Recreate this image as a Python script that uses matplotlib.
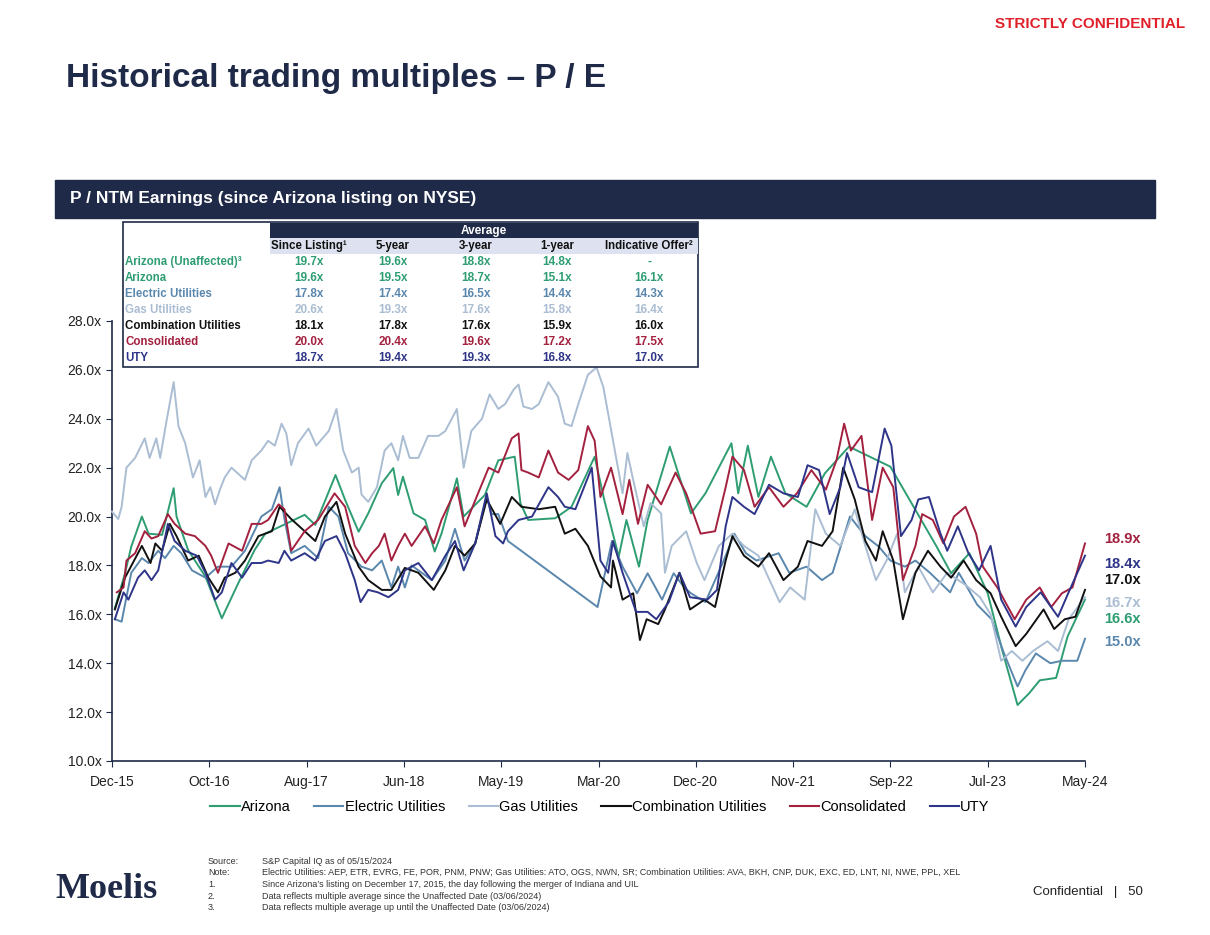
import matplotlib
matplotlib.use("Agg")
import matplotlib.pyplot as plt
from matplotlib.patches import Rectangle
from matplotlib.lines import Line2D

plt.rcParams['font.family'] = ['Liberation Sans', 'DejaVu Sans']

# ---------------- data (month index: 0 = Dec-15 ... 101 = May-24) ----------------
az_m = [0.3,1.35,2.0,3.1,3.8,5.2,6.4,6.7,7.9,9.7,11.4,13.1,14.8,15.9,20.0,21.1,23.2,24.2,25.6,26.6,28.0,29.2,29.7,30.2,31.3,32.5,33.5,34.2,35.8,36.5,38.7,40.1,41.8,42.4,43.2,46.0,47.7,50.1,51.1,52.6,53.4,54.7,55.6,57.9,60.1,61.6,64.3,65.0,66.0,67.1,68.4,69.9,72.1,74.0,76.5,80.8,83.4,85.6,87.1,89.0,90.9,92.4,94.0,95.2,96.3,98.0,99.2,101]
az_v = [16.25,17.68,18.77,20.0,19.3,19.25,21.16,20.0,18.63,17.54,15.84,17.27,18.63,19.3,20.07,19.66,21.7,20.68,19.38,20.13,21.36,21.98,20.88,21.63,20.13,19.86,18.57,19.3,21.56,20.0,20.88,22.3,22.45,20.54,19.86,19.93,20.4,22.45,20.68,18.36,19.86,17.95,19.86,22.86,20.13,20.95,23.0,20.95,22.9,20.8,22.45,20.95,20.4,21.77,22.86,22.04,20.27,18.77,17.68,18.5,16.86,14.54,12.29,12.77,13.3,13.4,15.1,16.6]

el_m = [0.3,1.0,2.0,3.1,3.8,4.8,5.5,6.4,7.2,8.3,9.7,11.0,12.4,13.8,15.5,16.6,17.4,17.9,18.6,20.0,21.4,22.5,23.5,24.5,25.9,27.0,28.0,29.0,29.7,30.4,31.1,33.2,34.6,35.6,36.6,37.7,38.9,39.4,40.1,41.1,50.4,51.9,53.0,54.5,55.6,57.1,58.3,59.4,60.1,61.6,63.5,64.6,65.8,66.9,69.2,70.3,72.1,73.7,74.8,76.6,78.2,79.6,80.8,82.3,83.4,84.9,87.0,87.9,89.8,91.3,92.6,94.0,94.8,95.9,97.4,98.6,100.2,101]
el_v = [15.8,15.7,17.7,18.3,18.1,18.6,18.3,18.8,18.5,17.8,17.5,17.95,17.95,18.6,20.0,20.3,21.2,19.9,18.5,18.8,18.3,20.4,20.0,18.5,17.95,17.8,18.2,17.1,17.95,17.1,18.0,17.4,18.2,19.5,18.2,18.9,20.8,20.1,20.1,19.0,16.3,19.0,17.95,16.86,17.68,16.6,17.68,17.1,16.86,16.5,18.2,19.3,18.5,18.2,18.5,17.7,17.95,17.4,17.7,20.0,19.2,18.77,18.2,17.95,18.2,17.7,16.9,17.7,16.4,15.8,14.4,13.05,13.7,14.4,14.0,14.1,14.1,15.0]

gas_m = [0.0,0.65,1.0,1.5,2.4,3.4,3.9,4.6,5.0,5.7,6.4,6.9,7.6,8.4,9.1,9.7,10.2,10.7,11.2,11.7,12.4,13.8,14.5,15.5,16.2,16.9,17.6,18.1,18.6,19.3,20.4,21.2,22.5,23.3,24.0,24.9,25.6,25.9,26.6,27.5,28.3,29.0,29.7,30.2,30.9,31.8,32.8,33.9,34.6,35.8,36.5,37.3,38.4,39.2,40.1,40.8,41.7,42.2,42.7,43.6,44.3,45.3,46.3,47.0,47.7,48.4,49.4,50.3,51.0,53.0,53.5,54.1,55.2,55.9,57.0,57.4,58.1,59.6,60.7,61.5,63.0,64.4,65.6,67.1,69.3,70.4,71.9,73.0,74.1,75.6,77.1,78.2,79.3,80.4,81.5,82.3,83.7,85.2,86.7,88.6,90.1,91.2,92.3,93.4,94.5,95.6,97.1,98.2,99.3,101]
gas_v = [20.2,19.9,20.4,22.0,22.4,23.2,22.4,23.2,22.4,24.0,25.5,23.7,23.0,21.6,22.3,20.8,21.2,20.5,21.1,21.6,22.0,21.5,22.3,22.7,23.1,22.9,23.8,23.4,22.1,23.0,23.6,22.9,23.5,24.4,22.7,21.8,22.0,20.9,20.6,21.2,22.7,23.0,22.3,23.3,22.4,22.4,23.3,23.3,23.5,24.4,22.0,23.5,24.0,25.0,24.4,24.6,25.2,25.4,24.5,24.4,24.6,25.5,24.9,23.8,23.7,24.6,25.8,26.1,25.3,20.95,22.6,21.5,19.6,20.55,20.13,17.7,18.8,19.4,18.1,17.4,18.8,19.3,18.8,18.4,16.5,17.1,16.6,20.3,19.3,18.8,20.3,18.8,17.4,18.2,19.3,16.9,17.95,16.9,17.7,17.2,16.7,16.0,14.1,14.5,14.1,14.5,14.9,14.5,15.8,16.7]

cmb_m = [0.3,1.35,3.1,4.0,4.5,5.2,6.0,6.7,7.9,9.0,10.0,11.0,11.7,12.8,13.8,15.2,16.6,17.4,18.6,20.0,21.1,22.1,23.3,24.2,25.6,26.6,28.0,29.0,30.4,31.8,33.4,34.6,35.6,36.6,37.7,38.9,40.3,41.5,42.5,44.3,46.0,47.0,48.1,49.4,50.7,51.8,52.0,53.0,54.1,54.8,55.5,56.7,57.4,58.9,60.0,61.5,62.6,63.7,64.4,65.6,67.1,68.2,69.7,71.2,72.2,73.7,74.8,75.9,77.1,78.2,79.3,80.0,81.1,82.1,83.4,84.7,86.0,87.1,88.4,89.7,91.2,92.3,93.8,94.9,96.7,97.8,98.9,100.0,101]
cmb_v = [16.2,17.5,18.8,18.1,18.9,18.6,19.7,19.2,18.2,18.4,17.5,16.9,17.5,17.7,18.2,19.2,19.4,20.4,19.9,19.4,19.0,20.0,20.6,19.3,17.95,17.4,17.0,17.0,17.9,17.7,17.0,17.8,18.8,18.4,18.9,20.7,19.7,20.8,20.4,20.3,20.4,19.3,19.5,18.8,17.55,17.1,18.2,16.6,16.86,14.95,15.8,15.6,16.2,17.7,16.2,16.6,16.3,18.2,19.2,18.4,17.95,18.5,17.4,17.95,19.0,18.8,19.4,22.0,20.7,19.0,18.2,19.4,18.2,15.8,17.7,18.6,17.95,17.5,18.2,17.4,16.86,15.9,14.7,15.2,16.2,15.4,15.8,15.9,17.0]

con_m = [0.5,1.2,1.5,2.4,3.4,4.1,4.8,5.8,6.5,7.6,8.6,9.7,10.3,11.0,12.1,13.5,14.5,15.5,16.2,17.3,17.9,18.6,20.0,21.4,23.1,24.2,25.2,26.3,27.0,27.7,28.3,29.0,29.7,30.4,31.1,32.5,33.4,34.2,35.8,36.6,38.0,39.1,40.1,41.5,42.2,42.5,43.2,44.3,45.3,46.3,47.4,48.4,49.4,50.1,50.7,51.8,53.0,53.7,54.6,55.6,57.0,58.5,59.6,61.1,62.6,63.7,64.4,65.6,66.7,68.2,69.7,71.1,72.6,74.1,75.2,76.0,76.7,77.8,78.9,80.0,81.1,82.1,83.4,84.1,85.2,86.3,87.4,88.6,89.7,90.4,91.9,93.7,94.9,96.3,97.5,98.6,99.7,101]
con_v = [16.9,17.1,18.2,18.5,19.4,19.1,19.2,20.1,19.7,19.3,19.2,18.8,18.4,17.7,18.9,18.6,19.7,19.7,19.86,20.5,20.3,18.6,19.4,19.86,20.95,20.4,18.8,18.1,18.5,18.8,19.3,18.2,18.8,19.3,18.8,19.6,18.9,19.86,21.2,19.6,20.95,22.0,21.8,23.2,23.4,21.9,21.8,21.6,22.7,21.8,21.5,21.9,23.7,23.1,20.8,22.0,20.1,21.5,19.7,21.3,20.5,21.8,20.95,19.3,19.4,21.2,22.45,21.9,20.4,21.2,20.4,20.95,21.9,21.1,22.3,23.8,22.7,23.3,19.86,22.0,21.2,17.4,18.8,20.1,19.86,18.9,20.0,20.4,19.3,17.95,17.1,15.8,16.6,17.1,16.3,16.86,17.1,18.9]

uty_m = [0.3,1.2,1.7,2.7,3.4,4.1,4.8,5.8,6.5,7.6,8.8,9.7,10.7,11.4,12.4,13.5,14.5,15.5,16.2,17.3,17.9,18.6,20.0,21.1,22.1,23.3,24.2,25.2,25.8,26.6,27.6,28.7,29.7,30.4,31.8,33.2,34.6,35.6,36.5,37.7,38.9,39.8,40.6,41.1,42.2,43.6,45.3,46.3,47.0,48.1,49.8,50.7,51.5,52.0,53.0,54.4,55.6,56.5,57.8,58.9,60.0,61.8,62.8,63.7,64.4,65.6,66.7,68.2,69.7,71.2,72.2,73.4,74.5,75.6,76.3,77.5,78.9,79.7,80.2,80.9,81.9,83.0,83.7,84.8,86.0,86.7,87.8,88.9,90.0,91.2,92.3,93.8,94.9,96.4,98.2,99.3,101]
uty_v = [15.8,16.9,16.6,17.5,17.8,17.4,17.8,19.7,19.0,18.6,18.4,17.7,16.6,16.9,18.1,17.5,18.1,18.1,18.2,18.1,18.6,18.2,18.5,18.2,19.0,19.2,18.5,17.4,16.5,17.0,16.9,16.7,17.0,17.8,18.1,17.4,18.4,19.0,17.8,18.9,20.95,19.2,18.9,19.4,19.86,20.0,21.2,20.8,20.4,20.3,22.0,18.2,17.7,19.0,17.7,16.1,16.1,15.8,16.5,17.7,16.7,16.6,17.0,19.6,20.8,20.4,20.1,21.3,20.95,20.8,22.1,21.9,20.1,21.2,22.6,21.2,21.0,22.6,23.6,22.9,19.2,19.86,20.7,20.8,19.3,18.6,19.6,18.5,17.8,18.8,16.6,15.5,16.3,16.9,15.9,16.9,18.4]

series_names = ["Arizona", "Electric Utilities", "Gas Utilities", "Combination Utilities", "Consolidated", "UTY"]
series_colors = ["#2E9E72", "#5A87AD", "#AABDD3", "#111111", "#A3213F", "#2E3588"]
last_labels = ["16.6x", "15.0x", "16.7x", "17.0x", "18.9x", "18.4x"]

x_tick_labels = ["Dec-15", "Oct-16", "Aug-17", "Jun-18", "May-19", "Mar-20", "Dec-20", "Nov-21", "Sep-22", "Jul-23", "May-24"]
y_ticks = [10, 12, 14, 16, 18, 20, 22, 24, 26, 28]

table_rows = ["Arizona (Unaffected)³", "Arizona", "Electric Utilities", "Gas Utilities", "Combination Utilities", "Consolidated", "UTY"]
table_cols = ["Since Listing¹", "5-year", "3-year", "1-year", "Indicative Offer²"]
table_vals = [["19.7x", "19.6x", "18.8x", "14.8x", "-"],
              ["19.6x", "19.5x", "18.7x", "15.1x", "16.1x"],
              ["17.8x", "17.4x", "16.5x", "14.4x", "14.3x"],
              ["20.6x", "19.3x", "17.6x", "15.8x", "16.4x"],
              ["18.1x", "17.8x", "17.6x", "15.9x", "16.0x"],
              ["20.0x", "20.4x", "19.6x", "17.2x", "17.5x"],
              ["18.7x", "19.4x", "19.3x", "16.8x", "17.0x"]]
table_row_colors = ["#2E9E72", "#2E9E72", "#5A87AD", "#AABDD3", "#111111", "#A3213F", "#2E3588"]

NAVY = "#1F2A48"
W, H = 1210, 935
fig = plt.figure(figsize=(W / 100, H / 100), dpi=100)

def fx(x): return x / W
def fy(y): return 1 - y / H

# header texts
fig.text(fx(1185), fy(24), "STRICTLY CONFIDENTIAL", color="#E0202A", fontsize=11, fontweight="bold", ha="right", va="center")
fig.text(fx(66), fy(78), "Historical trading multiples – P / E", color=NAVY, fontsize=24, fontweight="bold", ha="left", va="center")
fig.patches.append(Rectangle((fx(55), fy(218)), fx(1155) - fx(55), fy(180) - fy(218), transform=fig.transFigure, color=NAVY, zorder=1))
fig.text(fx(70), fy(199), "P / NTM Earnings (since Arizona listing on NYSE)", color="white", fontsize=12.5, fontweight="bold", ha="left", va="center")

# main axes
ax = fig.add_axes([fx(112), fy(761), fx(1085) - fx(112), fy(321) - fy(761)])
data = [(az_m, az_v), (el_m, el_v), (gas_m, gas_v), (cmb_m, cmb_v), (con_m, con_v), (uty_m, uty_v)]
order = [2, 1, 0, 3, 4, 5]
for i in order:
    m, v = data[i]
    ax.plot(m, v, color=series_colors[i], lw=1.4, zorder=2 + i, clip_on=False)
ax.set_xlim(0, 101)
ax.set_ylim(10, 28)
ax.set_yticks(y_ticks)
ax.set_yticklabels([f"{t:.1f}x" for t in y_ticks])
ax.set_xticks([i * 10.1 for i in range(11)])
ax.set_xticklabels(x_tick_labels)
for s in ["top", "right"]:
    ax.spines[s].set_visible(False)
for s in ["left", "bottom"]:
    ax.spines[s].set_color(NAVY)
    ax.spines[s].set_linewidth(1.2)
ax.tick_params(axis="both", colors="#222222", labelsize=10, direction="out", length=4, color=NAVY)
ax.tick_params(axis="x", pad=6)
ax.patch.set_alpha(0)

# end labels
label_y = {0: 619, 1: 642, 2: 603, 3: 580, 4: 539, 5: 564}
for i, ypix in label_y.items():
    fig.text(fx(1104), fy(ypix), last_labels[i], color=series_colors[i], fontsize=10.5, fontweight="bold", ha="left", va="center")

# table
tab = fig.add_axes([0, 0, 1, 1], zorder=20)
tab.set_xlim(0, W); tab.set_ylim(H, 0); tab.axis("off")
tab.add_patch(Rectangle((123, 222), 575, 145, facecolor="white", edgecolor=NAVY, lw=1.2))
tab.add_patch(Rectangle((270, 223), 428, 15, facecolor=NAVY, edgecolor="none"))
tab.add_patch(Rectangle((270, 238), 428, 16, facecolor="#DDE1F0", edgecolor="none"))
tab.text(484, 231, "Average", color="white", fontsize=8.5, fontweight="bold", ha="center", va="center")
col_x = [309, 393, 476, 557, 649]
for cx, c in zip(col_x, table_cols):
    tab.text(cx, 246, c, color="#111111", fontsize=8.3, fontweight="bold", ha="center", va="center")
for r, (name, vals, col) in enumerate(zip(table_rows, table_vals, table_row_colors)):
    ry = 262 + r * 16
    tab.text(125, ry, name, color=col, fontsize=8.3, fontweight="bold", ha="left", va="center")
    for cx, v in zip(col_x, vals):
        tab.text(cx, ry, v, color=col, fontsize=8.5, fontweight="bold", ha="center", va="center")

# legend
handles = [Line2D([0], [0], color=c, lw=1.5) for c in series_colors]
fig.legend(handles, series_names, loc="center", bbox_to_anchor=(fx(600), fy(807)), ncol=6, frameon=False,
           fontsize=10.5, handlelength=2.0, handletextpad=0.1, columnspacing=1.6)

# footnotes
notes = [("Source:", "S&P Capital IQ as of 05/15/2024"),
         ("Note:", "Electric Utilities: AEP, ETR, EVRG, FE, POR, PNM, PNW; Gas Utilities: ATO, OGS, NWN, SR; Combination Utilities: AVA, BKH, CNP, DUK, EXC, ED, LNT, NI, NWE, PPL, XEL"),
         ("1.", "Since Arizona’s listing on December 17, 2015, the day following the merger of Indiana and UIL"),
         ("2.", "Data reflects multiple average since the Unaffected Date (03/06/2024)"),
         ("3.", "Data reflects multiple average up until the Unaffected Date (03/06/2024)")]
for k, (a, b) in enumerate(notes):
    yy = 861 + k * 11.7
    fig.text(fx(208), fy(yy), a, fontsize=6.5, color="#333333", ha="left", va="center")
    fig.text(fx(262), fy(yy), b, fontsize=6.5, color="#333333", ha="left", va="center")

fig.text(fx(55), fy(890), "Moelis", family=["Liberation Serif", "DejaVu Serif"], fontsize=26, fontweight="bold", color=NAVY, ha="left", va="center")
fig.text(fx(1143), fy(892), "Confidential   |   50", fontsize=9.5, color="#222222", ha="right", va="center")

fig.savefig("out.png", dpi=100)
